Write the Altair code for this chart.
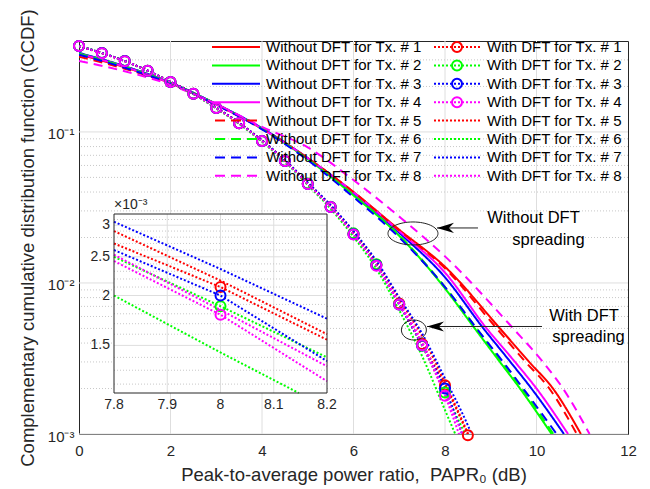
import altair as alt
import pandas as pd

# ------------------------------------------------------------------ data
TX_COLORS = ["#ff0000", "#00ff00", "#0000ff", "#ff00ff",
             "#ff0000", "#00ff00", "#0000ff", "#ff00ff"]

# Without DFT spreading: CCDF read at 0..8 dB ...
WO_X = [0, 1, 2, 3, 4, 5, 6, 7, 8]
# ... and the PAPR (dB) where each curve reaches these CCDF levels
WO_LOW_Y = [0.005, 0.003, 0.002, 0.001]

wo1_y = [0.325, 0.268, 0.210, 0.152, 0.105, 0.067, 0.0400, 0.0225, 0.0128]
wo1_xlow = [9.20, 9.84, 10.36, 10.97]
wo2_y = [0.333, 0.272, 0.212, 0.153, 0.105, 0.066, 0.0380, 0.0205, 0.0092]
wo2_xlow = [8.65, 9.20, 9.64, 10.33]
wo3_y = [0.333, 0.272, 0.212, 0.153, 0.106, 0.067, 0.0395, 0.0215, 0.0109]
wo3_xlow = [8.84, 9.43, 9.89, 10.60]
wo4_y = [0.330, 0.270, 0.210, 0.152, 0.105, 0.067, 0.0398, 0.0220, 0.0117]
wo4_xlow = [8.91, 9.53, 10.00, 10.69]
wo5_y = [0.315, 0.262, 0.208, 0.151, 0.105, 0.067, 0.0400, 0.0223, 0.0125]
wo5_xlow = [9.13, 9.76, 10.28, 10.88]
wo6_y = [0.330, 0.270, 0.211, 0.153, 0.105, 0.066, 0.0382, 0.0207, 0.0094]
wo6_xlow = [8.69, 9.24, 9.68, 10.37]
wo7_y = [0.325, 0.266, 0.209, 0.151, 0.104, 0.065, 0.0370, 0.0200, 0.0094]
wo7_xlow = [8.69, 9.27, 9.71, 10.44]
wo8_y = [0.295, 0.252, 0.205, 0.153, 0.108, 0.079, 0.0480, 0.0275, 0.0150]
wo8_xlow = [9.49, 10.14, 10.58, 11.16]

# With DFT spreading: CCDF every 0.5 dB
WD_X = [0, 0.5, 1, 1.5, 2, 2.5, 3, 3.5, 4, 4.5, 5, 5.5, 6, 6.5, 7, 7.5, 8, 8.5, 9]
wd1_y = [0.371, 0.333, 0.295, 0.254, 0.214, 0.179, 0.144, 0.114, 0.087, 0.0643,
         0.0453, 0.0319, 0.0211, 0.0132, 0.0073, 0.00394, 0.00210, 0.00098, 0.00040]
wd2_y = [0.370, 0.333, 0.295, 0.254, 0.214, 0.179, 0.144, 0.114, 0.087, 0.0645,
         0.0455, 0.0320, 0.0213, 0.0133, 0.0072, 0.00384, 0.00188, 0.00090, 0.00036]
wd3_y = [0.371, 0.333, 0.295, 0.254, 0.214, 0.179, 0.144, 0.114, 0.087, 0.0643,
         0.0452, 0.0318, 0.0210, 0.0131, 0.0072, 0.00385, 0.00200, 0.00078, 0.00030]
wd4_y = [0.370, 0.332, 0.294, 0.254, 0.214, 0.179, 0.144, 0.114, 0.087, 0.0642,
         0.0452, 0.0318, 0.0209, 0.0130, 0.0072, 0.00387, 0.00179, 0.00068, 0.00026]
wd5_y = [0.369, 0.332, 0.295, 0.255, 0.215, 0.180, 0.145, 0.115, 0.088, 0.0650,
         0.0460, 0.0325, 0.0218, 0.0138, 0.0078, 0.00445, 0.00218, 0.00101, 0.00042]
wd6_y = [0.371, 0.333, 0.294, 0.253, 0.213, 0.178, 0.143, 0.113, 0.086, 0.0635,
         0.0445, 0.0310, 0.0202, 0.0124, 0.0066, 0.00328, 0.00144, 0.00063, 0.00025]
wd7_y = [0.370, 0.333, 0.295, 0.255, 0.215, 0.180, 0.145, 0.115, 0.088, 0.0652,
         0.0462, 0.0328, 0.0220, 0.0140, 0.0080, 0.00462, 0.00233, 0.00114, 0.00048]
wd8_y = [0.370, 0.332, 0.294, 0.254, 0.214, 0.179, 0.144, 0.114, 0.087, 0.0642,
         0.0452, 0.0318, 0.0210, 0.0131, 0.0074, 0.00409, 0.00184, 0.00082, 0.00032]

# Inset (zoom on 7.8..8.2 dB, With DFT curves)
INSET_X = [7.8, 8.0, 8.2]
INSET_X6 = [7.8, 8.0, 8.147]
in1_y = [0.00270, 0.00210, 0.00155]
in2_y = [0.00250, 0.00188, 0.00140]
in3_y = [0.00260, 0.00200, 0.00137]
in4_y = [0.00244, 0.00179, 0.00122]
in5_y = [0.00290, 0.00218, 0.00160]
in6_y = [0.00200, 0.00144, 0.00114]
in7_y = [0.00306, 0.00233, 0.00175]
in8_y = [0.00253, 0.00184, 0.00133]

# axes / grids
X_TICKS = [0, 2, 4, 6, 8, 10, 12]
X_GRID = [2, 4, 6, 8, 10]
Y_TICKS = [0.001, 0.01, 0.1]
Y_MINOR = [0.002, 0.003, 0.004, 0.005, 0.006, 0.007, 0.008, 0.009,
           0.02, 0.03, 0.04, 0.05, 0.06, 0.07, 0.08, 0.09, 0.2, 0.3]
INSET_XTICKS = [7.8, 7.9, 8.0, 8.1, 8.2]
INSET_XLABELS = ["7.8", "7.9", "8", "8.1", "8.2"]
INSET_XGRID = [7.9, 8.0, 8.1]
INSET_YTICKS = [0.0015, 0.002, 0.0025, 0.003]
INSET_YLABELS = ["1.5", "2", "2.5", "3"]
INSET_YMINOR = [0.0012, 0.0013, 0.0014, 0.0016, 0.0017, 0.0018, 0.0019,
                0.0021, 0.0022, 0.0023, 0.0024, 0.0026, 0.0027, 0.0028,
                0.0029, 0.0031]
INSET_XDOM = [7.8, 8.2]
INSET_YDOM = [0.00114, 0.0032]

# annotations (data coordinates)
ANN_TEXT = ["Without DFT", "spreading", "With DFT", "spreading"]
ANN_TEXT_X = [9.934, 10.262, 11.038, 11.137]
ANN_TEXT_Y = [0.02674, 0.01926, 0.00600, 0.00442]
ELL_X = [7.30, 7.32]
ELL_Y = [0.02127, 0.00488]
ARROW_TIP_X = [7.825, 7.607]
ARROW_TAIL_X = [8.721, 10.12]
ARROW_Y = [0.02313, 0.00515]

FONT = "Liberation Sans"
AXC = "#262626"

# ------------------------------------------------------------------ tables
wo_up = [wo1_y, wo2_y, wo3_y, wo4_y, wo5_y, wo6_y, wo7_y, wo8_y]
wo_low = [wo1_xlow, wo2_xlow, wo3_xlow, wo4_xlow, wo5_xlow, wo6_xlow, wo7_xlow, wo8_xlow]
wd_all = [wd1_y, wd2_y, wd3_y, wd4_y, wd5_y, wd6_y, wd7_y, wd8_y]
in_all = [in1_y, in2_y, in3_y, in4_y, in5_y, in6_y, in7_y, in8_y]


def wo_name(k):
    return f"Without DFT for Tx. # {k}"


def wd_name(k):
    return f"With DFT for Tx. # {k}"


rows = []
for i in range(8):
    k = i + 1
    dash = "solid" if k <= 4 else "dashed"
    for x, y in zip(WO_X, wo_up[i]):
        rows.append(dict(series=wo_name(k), x=x, y=y, color=TX_COLORS[i], dash=dash))
    for x, y in zip(wo_low[i], WO_LOW_Y):
        rows.append(dict(series=wo_name(k), x=x, y=y, color=TX_COLORS[i], dash=dash))
for i in range(8):
    k = i + 1
    for x, y in zip(WD_X, wd_all[i]):
        rows.append(dict(series=wd_name(k), x=x, y=y, color=TX_COLORS[i], dash="dotted"))
line_df = pd.DataFrame(rows)

mrows = []
for i in range(4):
    for x, y in zip(WD_X, wd_all[i]):
        if x <= 8.5 and y >= 0.00097:
            mrows.append(dict(series=wd_name(i + 1), x=x, y=y, color=TX_COLORS[i]))
marker_df = pd.DataFrame(mrows)

irows = []
for i in range(8):
    xs = INSET_X6 if i == 5 else INSET_X
    for x, y in zip(xs, in_all[i]):
        irows.append(dict(series=wd_name(i + 1), x=x, y=y, color=TX_COLORS[i]))
inset_df = pd.DataFrame(irows)
imark_df = pd.DataFrame([dict(x=INSET_X[1], y=in_all[i][1], color=TX_COLORS[i]) for i in range(4)])

# legend entries: column 1 = without DFT, column 2 = with DFT (legend fills column-wise)
SOLID = "M-1,0H1"
DASHED = "M-0.875,0h0.4167M-0.2083,0h0.4167M0.4583,0h0.4167"
DOTS = "".join(f"M{-0.958 + j / 6:.4f},0h0.0833" for j in range(12))
CIRC = "M0.2083,0A0.2083,0.2083,0,1,1,-0.2083,0A0.2083,0.2083,0,1,1,0.2083,0"
SERIES_ORDER = [wo_name(k) for k in range(1, 9)] + [wd_name(k) for k in range(1, 9)]
LEG_COLORS = TX_COLORS + TX_COLORS
LEG_PATHS = ([SOLID] * 4 + [DASHED] * 4 + [DOTS + CIRC] * 4 + [DOTS] * 4)
legend_df = pd.DataFrame({"series": SERIES_ORDER, "x": [0.0] * 16, "y": [0.1] * 16})

# ------------------------------------------------------------------ scales
XS = alt.Scale(domain=[0, 12], nice=False, zero=False)
YS = alt.Scale(type="log", domain=[0.001, 0.4], nice=False)
IXS = alt.Scale(domain=INSET_XDOM, range=[35, 248], nice=False, zero=False)
IYS = alt.Scale(type="log", domain=INSET_YDOM, range=[352, 173], nice=False)

X_AXIS = alt.Axis(values=X_TICKS, format="d", grid=False, ticks=False, domain=False,
                  labelFlush=False, labelFont=FONT, labelFontSize=15, labelColor=AXC,
                  labelPadding=9,
                  title="Peak-to-average power ratio,\u00a0 PAPR\u2080 (dB)",
                  titleFont=FONT, titleFontSize=18.5, titleFontWeight="normal",
                  titleColor=AXC, titleBaseline="alphabetic", titleY=46)
Y_AXIS = alt.Axis(values=Y_TICKS, grid=False, ticks=False, domain=False,
                  labelFlush=False,
                  labelExpr="datum.value < 0.005 ? '10\u207b\u00b3' : (datum.value < 0.05 ? '10\u207b\u00b2' : '10\u207b\u00b9')",
                  labelFont=FONT, labelFontSize=15, labelColor=AXC, labelPadding=5,
                  labelOffset=2,
                  title="Complementary cumulative distribution function (CCDF)",
                  titleFont=FONT, titleFontSize=18.5, titleFontWeight="normal",
                  titleColor=AXC, titleBaseline="alphabetic", titleX=-46)


def mx(f="x", axis=None):
    return alt.X(f, type="quantitative", scale=XS, axis=axis)


def my(f="y", axis=None):
    return alt.Y(f, type="quantitative", scale=YS, axis=axis)


def ix(f="x"):
    return alt.X(f, type="quantitative", scale=IXS, axis=None)


def iy(f="y"):
    return alt.Y(f, type="quantitative", scale=IYS, axis=None)


DASH_SCALE = alt.Scale(domain=["solid", "dashed", "dotted"], range=[[1, 0], [9, 6], [2, 2]])

# ------------------------------------------------------------------ main panel
xgrid = alt.Chart(pd.DataFrame({"x": X_GRID})).mark_rule(color="#dedede", strokeWidth=1).encode(x=mx())
ymajor = alt.Chart(pd.DataFrame({"y": Y_TICKS})).mark_rule(color="#dedede", strokeWidth=1).encode(y=my())
yminor = alt.Chart(pd.DataFrame({"y": Y_MINOR})).mark_rule(
    color="#c8c8c8", strokeWidth=1, strokeDash=[1, 2]).encode(y=my())

lines = alt.Chart(line_df).mark_line(strokeWidth=2, clip=True, interpolate="monotone").encode(
    x=mx("x", X_AXIS), y=my("y", Y_AXIS),
    stroke=alt.Stroke("color:N", scale=None),
    strokeDash=alt.StrokeDash("dash:N", scale=DASH_SCALE, legend=None),
    detail="series:N",
)
markers = alt.Chart(marker_df).mark_point(filled=False, size=100, strokeWidth=2, opacity=1).encode(
    x=mx(), y=my(), stroke=alt.Stroke("color:N", scale=None))

LEG = dict(title=None, orient="none", legendX=132, legendY=-2.5, columns=2,
           columnPadding=10, rowPadding=1.4, clipHeight=17, symbolSize=2304,
           symbolStrokeWidth=2, labelFont=FONT, labelFontSize=15, labelColor="black",
           labelOffset=5, labelLimit=400, padding=0)
legend_layer = alt.Chart(legend_df).mark_point(
    filled=False, size=2304, strokeWidth=2, opacity=1).encode(
    x=mx(), y=my(),
    color=alt.Color("series:N", scale=alt.Scale(domain=SERIES_ORDER, range=LEG_COLORS),
                    legend=alt.Legend(**LEG)),
    shape=alt.Shape("series:N", scale=alt.Scale(domain=SERIES_ORDER, range=LEG_PATHS),
                    legend=alt.Legend(**LEG)),
).transform_filter("false")

ell1 = alt.Chart(pd.DataFrame({"x": ELL_X[:1], "y": ELL_Y[:1]})).mark_point(
    shape="M-1,0A1,0.46,0,1,1,1,0A1,0.46,0,1,1,-1,0", size=2500, filled=False,
    stroke="#222222", strokeWidth=1, opacity=1).encode(x=mx(), y=my())
ell2 = alt.Chart(pd.DataFrame({"x": ELL_X[1:], "y": ELL_Y[1:]})).mark_point(
    shape="M-1,0A1,0.8,0,1,1,1,0A1,0.8,0,1,1,-1,0", size=625, filled=False,
    stroke="#222222", strokeWidth=1, opacity=1).encode(x=mx(), y=my())
arrow_df = pd.DataFrame({"x": ARROW_TIP_X, "x2": ARROW_TAIL_X, "y": ARROW_Y})
arrows = alt.Chart(arrow_df).mark_rule(color="#222222", strokeWidth=1).encode(
    x=mx(), x2="x2:Q", y=my())
heads = alt.Chart(arrow_df).mark_point(
    shape="M0,0L1,-0.3L0.7,0L1,0.3Z", size=1156, filled=True, color="black",
    opacity=1).encode(x=mx(), y=my())
ann = alt.Chart(pd.DataFrame({"t": ANN_TEXT, "x": ANN_TEXT_X, "y": ANN_TEXT_Y})).mark_text(
    font=FONT, fontSize=16.5, color="black", align="center", baseline="middle").encode(
    x=mx(), y=my(), text="t:N")

# ------------------------------------------------------------------ inset panel
box_df = pd.DataFrame({"x": [INSET_XDOM[0]], "x2": [INSET_XDOM[1]],
                       "y": [INSET_YDOM[0]], "y2": [INSET_YDOM[1]]})
inset_bg = alt.Chart(box_df).mark_rect(fill="white").encode(
    x=ix(), x2="x2:Q", y=iy(), y2="y2:Q")
inset_frame = alt.Chart(box_df).mark_rect(fillOpacity=0, stroke=AXC, strokeWidth=1).encode(
    x=ix(), x2="x2:Q", y=iy(), y2="y2:Q")
ixg = alt.Chart(pd.DataFrame({"x": INSET_XGRID, "y": INSET_YDOM[0], "y2": INSET_YDOM[1]})).mark_rule(
    color="#dedede", strokeWidth=1).encode(x=ix(), y=iy(), y2="y2:Q")
iyg_min = alt.Chart(pd.DataFrame({"y": INSET_YMINOR, "x": INSET_XDOM[0], "x2": INSET_XDOM[1]})).mark_rule(
    color="#c8c8c8", strokeWidth=1, strokeDash=[1, 2]).encode(y=iy(), x=ix(), x2="x2:Q")
iyg_maj = alt.Chart(pd.DataFrame({"y": INSET_YTICKS, "x": INSET_XDOM[0], "x2": INSET_XDOM[1]})).mark_rule(
    color="#dedede", strokeWidth=1).encode(y=iy(), x=ix(), x2="x2:Q")
ilines = alt.Chart(inset_df).mark_line(strokeWidth=2, strokeDash=[2, 2]).encode(
    x=ix(), y=iy(), stroke=alt.Stroke("color:N", scale=None), detail="series:N")
imarks = alt.Chart(imark_df).mark_point(filled=False, size=100, strokeWidth=2, opacity=1).encode(
    x=ix(), y=iy(), stroke=alt.Stroke("color:N", scale=None))
ixl = alt.Chart(pd.DataFrame({"x": INSET_XTICKS, "t": INSET_XLABELS, "y": INSET_YDOM[0]})).mark_text(
    font=FONT, fontSize=14, color=AXC, align="center", baseline="middle", dy=12).encode(
    x=ix(), y=iy(), text="t:N")
iyl = alt.Chart(pd.DataFrame({"y": INSET_YTICKS, "t": INSET_YLABELS, "x": INSET_XDOM[0]})).mark_text(
    font=FONT, fontSize=14, color=AXC, align="right", baseline="middle", dx=-4).encode(
    x=ix(), y=iy(), text="t:N")
iexp = alt.Chart(pd.DataFrame({"x": [INSET_XDOM[0]], "y": [INSET_YDOM[1]], "t": ["\u00d710\u207b\u00b3"]})).mark_text(
    font=FONT, fontSize=14, color=AXC, align="left", baseline="bottom", dy=-2).encode(
    x=ix(), y=iy(), text="t:N")

chart = alt.layer(
    xgrid, yminor, ymajor, lines, markers, legend_layer,
    ell1, ell2, arrows, heads, ann,
    inset_bg, ixg, iyg_min, iyg_maj, ilines, imarks, inset_frame, ixl, iyl, iexp,
).resolve_scale(x="independent", y="independent").properties(
    width=549, height=393,
    padding={"left": 79, "top": 41, "right": 22, "bottom": 55},
    autosize=alt.AutoSizeParams(type="none"),
    background="white",
).configure_view(stroke=AXC, strokeWidth=1)

chart.save("out.html", embed_options={"renderer": "svg", "actions": False})
